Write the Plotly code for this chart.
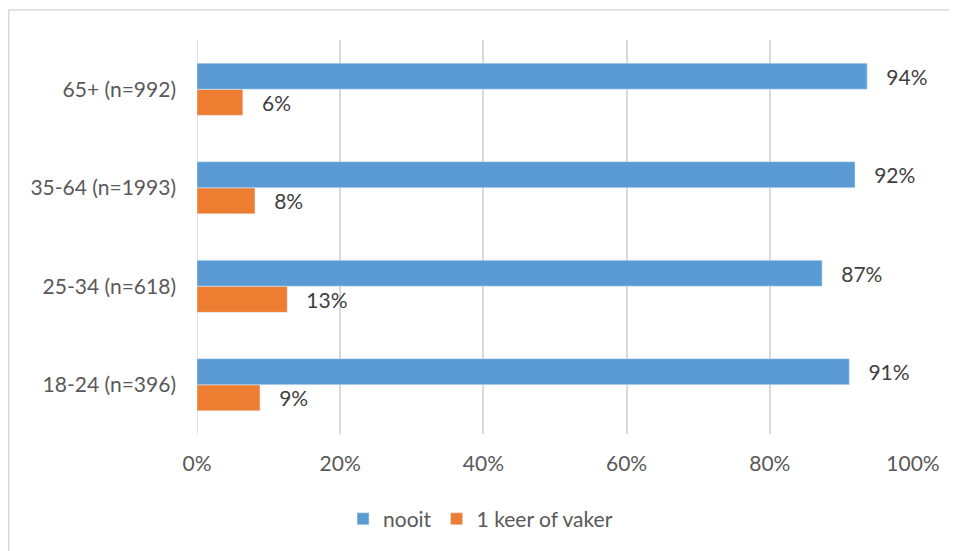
import plotly.graph_objects as go

categories = ["18-24 (n=396)", "25-34 (n=618)", "35-64 (n=1993)", "65+ (n=992)"]
nooit = [91.1, 87.3, 91.9, 93.6]
vaker = [8.8, 12.6, 8.1, 6.4]
nooit_labels = ["91%", "87%", "92%", "94%"]
vaker_labels = ["9%", "13%", "8%", "6%"]
x_ticks = [0, 20, 40, 60, 80, 100]
x_tick_labels = ["0%", "20%", "40%", "60%", "80%", "100%"]

FONT = "Lato, 'Open Sans', sans-serif"
FS = 21

fig = go.Figure()
fig.add_trace(go.Bar(
    y=categories, x=vaker, orientation="h", name="1 keer of vaker",
    marker=dict(color="#ED7D31"),
    text=["   " + t for t in vaker_labels], textposition="outside",
    textfont=dict(size=FS, color="#404040", family=FONT), cliponaxis=False,
))
fig.add_trace(go.Bar(
    y=categories, x=nooit, orientation="h", name="nooit",
    marker=dict(color="#5B9BD5"),
    text=["   " + t for t in nooit_labels], textposition="outside",
    textfont=dict(size=FS, color="#404040", family=FONT), cliponaxis=False,
))

# page body adds 8px offset; figure spans 8..957 x 8..551 of the window
fig.update_layout(
    width=949, height=543,
    margin=dict(l=189, r=44, t=32, b=116),
    paper_bgcolor="white", plot_bgcolor="white",
    barmode="group", bargap=0.47, bargroupgap=0,
    font=dict(family=FONT, size=FS, color="#595959"),
    showlegend=True,
    legend=dict(orientation="h", traceorder="reversed", x=0.396, xanchor="center",
                y=-0.213, yanchor="middle", font=dict(size=FS, color="#595959"),
                itemwidth=30),
    xaxis=dict(range=[0, 100], tickvals=x_ticks, ticktext=x_tick_labels,
               showgrid=True, gridcolor="#D9D9D9", gridwidth=1.5,
               zeroline=False, showline=False, ticklabelstandoff=15,
               tickfont=dict(size=FS, color="#595959")),
    yaxis=dict(showgrid=False, zeroline=False, showline=False,
               ticklabelstandoff=20, tickfont=dict(size=FS, color="#595959")),
    shapes=[dict(type="rect", xref="paper", yref="paper",
                 x0=(0.75 - 189) / 716, x1=1.2, y0=-0.5, y1=(427 - 2) / 395,
                 line=dict(color="#D9D9D9", width=1.5), layer="below")],
)
fig.add_shape(type="line", xref="x", yref="paper", x0=0, x1=0, y0=0, y1=1,
              line=dict(color="#D9D9D9", width=1.5), layer="below")

fig.write_html("out.html")
